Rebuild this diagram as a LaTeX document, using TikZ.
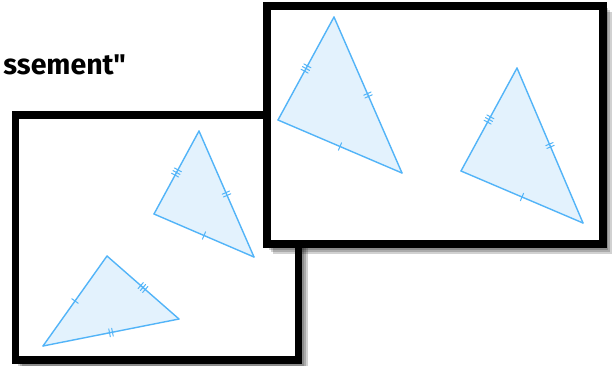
\documentclass[tikz,border=0pt]{standalone}
\usepackage{fontspec}
\newfontfamily\titlefont{Fira Sans}
\usetikzlibrary{decorations.markings}
\definecolor{triline}{RGB}{82,180,248}
\definecolor{trifill}{RGB}{227,242,253}
\tikzset{
  frame/.style={draw=black, line width=7.5pt, fill=white},
  frameshadow/.style={fill=black, opacity=.18},
  trishape/.style={fill=trifill},
  side/.style={draw=triline, line width=1.4pt, line cap=round},
  tickat/.style={postaction={decorate, decoration={markings,
      mark=at position .5 with {#1}}}},
  onetick/.style={side, tickat={\draw[triline, line width=1pt] (0,-4)--(0,4);}},
  twoticks/.style={side, tickat={\draw[triline, line width=1pt]
      (-1.5,-4)--(-1.5,4) (1.5,-4)--(1.5,4);}},
  threeticks/.style={side, tickat={\draw[triline, line width=1pt]
      (-3,-4)--(-3,4) (0,-4)--(0,4) (3,-4)--(3,4);}},
}
\begin{document}
\begin{tikzpicture}[x=1pt, y=-1pt]
  \useasboundingbox (0,0) rectangle (614,365);
  % heading, cut at the left
  \node[anchor=base east, inner sep=0pt, font=\titlefont\bfseries\fontsize{28.5}{32}\selectfont]
    (heading) at (126,74) {ssement"};

  % back card
  \coordinate (bnw) at (15.5,115);
  \coordinate (bse) at (298.5,360);
  \foreach \d in {2,4,6}
    \fill[frameshadow] ([shift={(\d,\d)}]bnw) rectangle ([shift={(\d+3.5,\d+3.5)}]bse);
  \draw[frame] (bnw) rectangle (bse);

  \coordinate (bu-top) at (199,131);
  \coordinate (bu-left) at (154,214);
  \coordinate (bu-right) at (254,257);
  \fill[trishape] (bu-top) -- (bu-left) -- (bu-right) -- cycle;
  \path[threeticks] (bu-top) -- (bu-left);
  \path[twoticks] (bu-top) -- (bu-right);
  \path[onetick] (bu-left) -- (bu-right);

  \coordinate (bl-top) at (107,256);
  \coordinate (bl-left) at (43,346);
  \coordinate (bl-right) at (179,319);
  \fill[trishape] (bl-top) -- (bl-left) -- (bl-right) -- cycle;
  \path[onetick] (bl-top) -- (bl-left);
  \path[threeticks] (bl-top) -- (bl-right);
  \path[twoticks] (bl-left) -- (bl-right);

  % front card
  \coordinate (fnw) at (267,6);
  \coordinate (fse) at (602.5,244);
  \foreach \d in {2,4,6}
    \fill[frameshadow] ([shift={(\d,\d)}]fnw) rectangle ([shift={(\d+3.5,\d+3.5)}]fse);
  \draw[frame, line width=8pt] (fnw) rectangle (fse);

  \coordinate (fl-top) at (334,17);
  \coordinate (fl-left) at (278,120);
  \coordinate (fl-right) at (402,173);
  \fill[trishape] (fl-top) -- (fl-left) -- (fl-right) -- cycle;
  \path[threeticks] (fl-top) -- (fl-left);
  \path[twoticks] (fl-top) -- (fl-right);
  \path[onetick] (fl-left) -- (fl-right);

  \coordinate (fr-top) at (517,68);
  \coordinate (fr-left) at (461,171);
  \coordinate (fr-right) at (583,223);
  \fill[trishape] (fr-top) -- (fr-left) -- (fr-right) -- cycle;
  \path[threeticks] (fr-top) -- (fr-left);
  \path[twoticks] (fr-top) -- (fr-right);
  \path[onetick] (fr-left) -- (fr-right);
\end{tikzpicture}
\end{document}
